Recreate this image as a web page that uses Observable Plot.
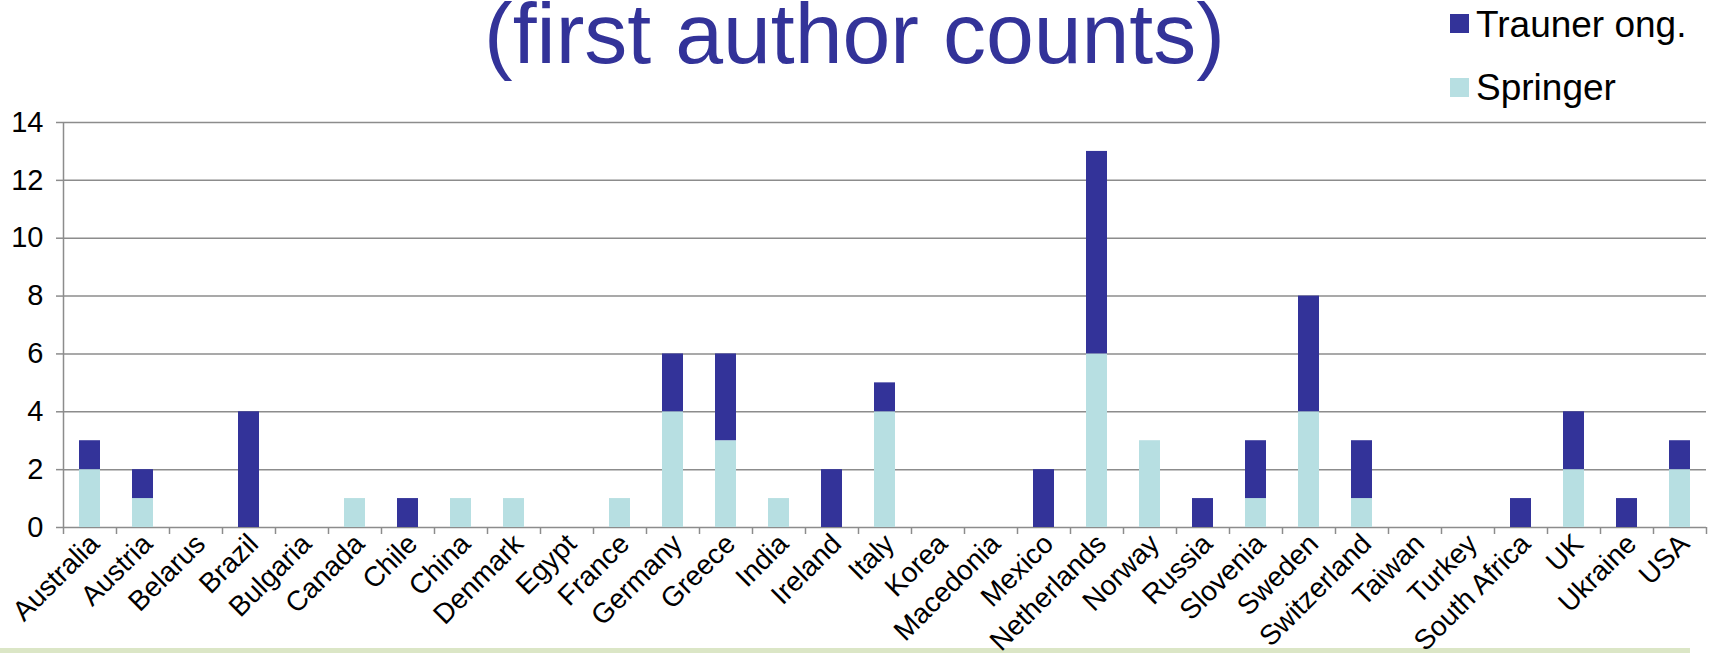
<!DOCTYPE html>
<html>
<head>
<meta charset="utf-8">
<script src="https://cdn.jsdelivr.net/npm/d3@7"></script>
<script src="https://cdn.jsdelivr.net/npm/@observablehq/plot@0.6"></script>
<style>
  html, body { margin: 0; padding: 0; background: #fff; }
  #wrap { position: relative; width: 1709px; height: 660px; overflow: hidden; font-family: "Liberation Sans", Arial, sans-serif; }
  #title { position: absolute; left: 0; width: 1709px; top: 3px; text-align: center; font-size: 86px; line-height: 60px; color: #333399; }
  .leg { position: absolute; left: 1450px; font-size: 37px; line-height: 1; color: #000; white-space: nowrap; }
  .sw { position: absolute; left: 0; width: 19px; height: 19px; }
  .lt { position: absolute; left: 26px; }
  #deco { position: absolute; left: 0; top: 648px; width: 1690px; height: 5px; background: #dbe6c6; }
  #chart { position: absolute; left: 0; top: 0; }
</style>
</head>
<body>
<div id="wrap">
  <div id="deco"></div>
  <div id="chart"></div>
  <div id="title">(first author counts)</div>
  <div class="leg" style="top:6px"><div class="sw" style="top:8px;background:#333399"></div><div class="lt">Trauner ong.</div></div>
  <div class="leg" style="top:69px"><div class="sw" style="top:9px;background:#b7dfe2"></div><div class="lt">Springer</div></div>
</div>
<script>
const countries = ["Australia","Austria","Belarus","Brazil","Bulgaria","Canada","Chile","China","Denmark","Egypt","France","Germany","Greece","India","Ireland","Italy","Korea","Macedonia","Mexico","Netherlands","Norway","Russia","Slovenia","Sweden","Switzerland","Taiwan","Turkey","South Africa","UK","Ukraine","USA"];
const springer = [2,1,0,0,0,1,0,1,1,0,1,4,3,1,0,4,0,0,0,6,3,0,1,4,1,0,0,0,2,0,2];
const trauner  = [1,1,0,4,0,0,1,0,0,0,0,2,3,0,2,1,0,0,2,7,0,1,2,4,2,0,0,1,2,1,1];
const seriesNames = ["Springer", "Trauner ong."];
const seriesColors = ["#b7dfe2", "#333399"];
const yTicks = [0,2,4,6,8,10,12,14];

const rows = [];
countries.forEach((c, i) => {
  rows.push({i, country: c, series: seriesNames[0], y1: 0, y2: springer[i]});
  rows.push({i, country: c, series: seriesNames[1], y1: springer[i], y2: springer[i] + trauner[i]});
});
const bars = rows.filter(d => d.y2 > d.y1);
const grey = "#8c8c8c";

const chart = Plot.plot({
  width: 1709,
  height: 660,
  marginLeft: 63,
  marginRight: 3,
  marginTop: 122,
  marginBottom: 133,
  style: {fontFamily: "'Liberation Sans', Arial, sans-serif", background: "transparent"},
  x: {type: "linear", domain: [0, countries.length]},
  y: {domain: [0, 14]},
  color: {domain: seriesNames, range: seriesColors},
  marks: [
    Plot.ruleY(yTicks, {stroke: grey, strokeWidth: 1.5}),
    Plot.rectY(bars, {x1: d => d.i, x2: d => d.i + 1, y1: "y1", y2: "y2", fill: "series", insetLeft: 16, insetRight: 16}),
    Plot.ruleX([0], {stroke: grey, strokeWidth: 1.5}),
    Plot.axisY({ticks: yTicks, tickSize: 7, tickPadding: 13, stroke: grey, strokeWidth: 1.5, fill: "black", fontSize: 29}),
    Plot.axisX({ticks: d3.range(0, countries.length + 1), tickSize: 7, tickFormat: () => "", stroke: grey, strokeWidth: 1.5}),
    Plot.text(countries, {x: (d, i) => i + 0.5, frameAnchor: "bottom", rotate: -45, textAnchor: "end", dx: 11, dy: 18, fontSize: 28, fill: "black"})
  ]
});
document.getElementById("chart").appendChild(chart);
</script>
</body>
</html>
